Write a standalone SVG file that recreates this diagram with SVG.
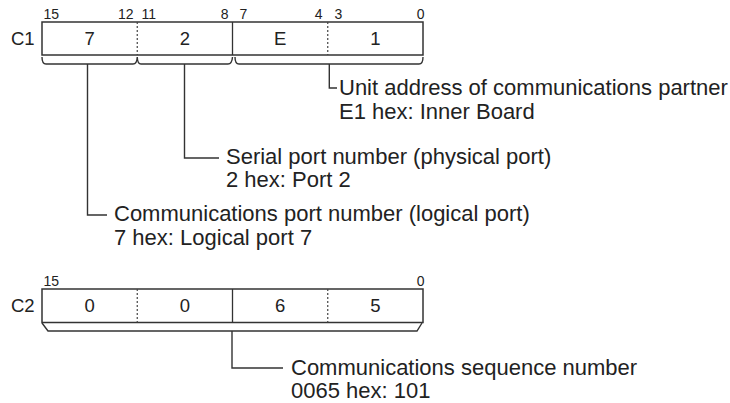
<svg xmlns="http://www.w3.org/2000/svg" width="730" height="403" viewBox="0 0 730 403">
<style>
text{font-family:"Liberation Sans",Arial,sans-serif;fill:#222}
.bit{font-size:14px}
.dig{font-size:18.5px;text-anchor:middle}
.reg{font-size:18.5px}
.lbl{font-size:22px}
.box{fill:#fff;stroke:#333;stroke-width:1.5}
.div{stroke:#333;stroke-width:1.3}
.dot{stroke:#444;stroke-width:1.2;stroke-dasharray:2 2}
.ln{fill:none;stroke:#333;stroke-width:1.4}
</style>
<rect width="730" height="403" fill="#fff"/>
<g id="C1">
<text class="bit" x="43.5" y="19">15</text>
<text class="bit" x="133.5" y="19" text-anchor="end">12</text>
<text class="bit" x="141.5" y="19">11</text>
<text class="bit" x="228.5" y="19" text-anchor="end">8</text>
<text class="bit" x="239.5" y="19">7</text>
<text class="bit" x="322.5" y="19" text-anchor="end">4</text>
<text class="bit" x="334.5" y="19">3</text>
<text class="bit" x="424.5" y="19" text-anchor="end">0</text>
<text class="reg" x="11" y="45">C1</text>
<rect class="box" x="42" y="22" width="381" height="33"/>
<line class="dot" x1="137.25" y1="22" x2="137.25" y2="55"/>
<line class="div" x1="232.5" y1="22" x2="232.5" y2="55"/>
<line class="dot" x1="327.75" y1="22" x2="327.75" y2="55"/>
<text class="dig" x="89.6" y="45">7</text>
<text class="dig" x="184.9" y="45">2</text>
<text class="dig" x="280.1" y="45">E</text>
<text class="dig" x="375.4" y="45">1</text>
</g>
<g id="C2">
<text class="bit" x="43.5" y="285.5">15</text>
<text class="bit" x="424.5" y="285.5" text-anchor="end">0</text>
<text class="reg" x="11" y="312">C2</text>
<rect class="box" x="42" y="289" width="381" height="33.5"/>
<line class="dot" x1="137.25" y1="289" x2="137.25" y2="322.5"/>
<line class="div" x1="232.5" y1="289" x2="232.5" y2="322.5"/>
<line class="dot" x1="327.75" y1="289" x2="327.75" y2="322.5"/>
<text class="dig" x="89.6" y="312">0</text>
<text class="dig" x="184.9" y="312">0</text>
<text class="dig" x="280.1" y="312">6</text>
<text class="dig" x="375.4" y="312">5</text>
</g>
<g id="connectors">
<path class="ln" d="M42,57 Q42,64 46,64 L133,64 Q137,64 137.25,57 Q137.5,64 141,64 L228,64 Q232,64 232.5,57"/>
<path class="ln" d="M235,57 Q235,64 239,64 L419,64 Q423,64 423,57"/>
<path class="ln" d="M87.5,64 L87.5,215 L107,215"/>
<path class="ln" d="M184.5,64 L184.5,158 L219,158"/>
<path class="ln" d="M329.3,64 L329.3,88 L337,88"/>
<path class="ln" d="M42,323 L48,331 L417,331 L422,323"/>
<path class="ln" d="M232,331 L232,368 L283,368"/>
</g>
<g id="labels">
<text class="lbl" x="339" y="95">Unit address of communications partner</text>
<text class="lbl" x="339" y="118.5">E1 hex: Inner Board</text>
<text class="lbl" x="226" y="164">Serial port number (physical port)</text>
<text class="lbl" x="226" y="187">2 hex: Port 2</text>
<text class="lbl" x="114" y="221">Communications port number (logical port)</text>
<text class="lbl" x="114" y="244.5">7 hex: Logical port 7</text>
<text class="lbl" x="291" y="374.5">Communications sequence number</text>
<text class="lbl" x="291" y="398">0065 hex: 101</text>
</g>
</svg>
